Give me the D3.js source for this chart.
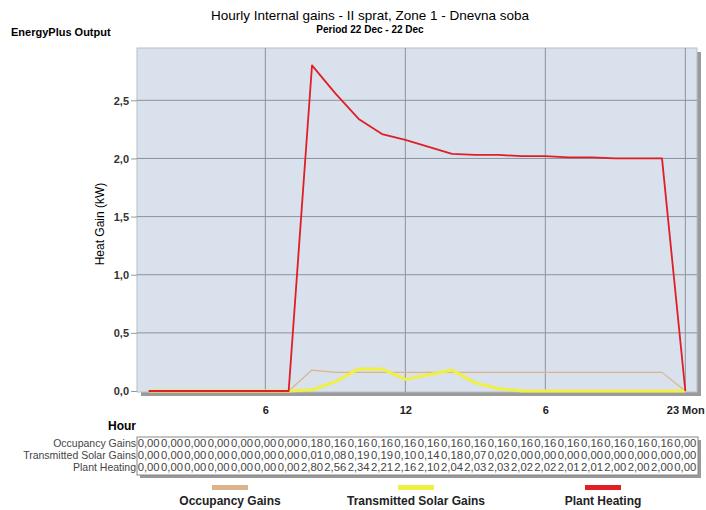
<!DOCTYPE html>
<meta charset="utf-8">
<title>Hourly Internal gains</title>
<script src="https://cdn.jsdelivr.net/npm/d3@7"></script>
<style>
  body { margin: 0; background: #fff; }
  svg { font-family: Arial, "Liberation Sans", sans-serif; }
</style>
<body>
<script>

// hours 1..24 of 22 Dec (24 = 23 Mon 0:00)
var hours = d3.range(1, 25);
var seriesNames = ["Occupancy Gains", "Transmitted Solar Gains", "Plant Heating"];
var occupancy = [0,0,0,0,0,0,0,0.18,0.16,0.16,0.16,0.16,0.16,0.16,0.16,0.16,0.16,0.16,0.16,0.16,0.16,0.16,0.16,0];
var solar = [0,0,0,0,0,0,0,0.01,0.08,0.19,0.19,0.10,0.14,0.18,0.07,0.02,0,0,0,0,0,0,0,0];
var heating = [0,0,0,0,0,0,0,2.80,2.56,2.34,2.21,2.16,2.10,2.04,2.03,2.03,2.02,2.02,2.01,2.01,2.00,2.00,2.00,0];
var xTicks = [6, 12, 18, 24];
var xTickLabels = ["6", "12", "6", "23 Mon"];
var yTicks = [0, 0.5, 1, 1.5, 2, 2.5];

var colors = ["#dcb48c", "#f0f040", "#e01e26"];
var widths = [1.2, 3, 1.8];
var allSeries = [occupancy, solar, heating];

var W = 706, H = 510;
var plot = {left: 137, right: 697, top: 48, bottom: 392};

var svg = d3.select("body").append("svg")
    .attr("width", W)
    .attr("height", H);

var x = d3.scaleLinear().domain([0.5, 24.5]).range([plot.left, plot.right]);
var y = d3.scaleLinear().domain([0, 2.95]).range([plot.bottom - 1, plot.top]);

var fmt = function(v) { return d3.format(".2f")(v).replace(".", ","); };

// titles
svg.append("text").attr("x", 370).attr("y", 20).attr("text-anchor", "middle")
  .style("font-size", "13.5px").text("Hourly Internal gains - II sprat, Zone 1 - Dnevna soba");
svg.append("text").attr("x", 370).attr("y", 33).attr("text-anchor", "middle")
  .style("font-size", "10px").style("font-weight", "bold").text("Period 22 Dec - 22 Dec");
svg.append("text").attr("x", 11).attr("y", 36)
  .style("font-size", "11px").style("font-weight", "bold").text("EnergyPlus Output");

// plot area with shadow
svg.append("rect").attr("x", plot.left + 4).attr("y", plot.top + 4)
  .attr("width", plot.right - plot.left).attr("height", plot.bottom - plot.top)
  .attr("fill", "#9a9a9a");
svg.append("rect").attr("x", plot.left).attr("y", plot.top)
  .attr("width", plot.right - plot.left).attr("height", plot.bottom - plot.top)
  .attr("fill", "#d8e1ec").attr("stroke", "#b8c0c8").attr("stroke-width", 1);

// grid
svg.append("g").selectAll("line").data(yTicks.slice(1)).enter().append("line")
  .attr("x1", plot.left).attr("x2", plot.right)
  .attr("y1", function(d) { return y(d); }).attr("y2", function(d) { return y(d); })
  .attr("stroke", "#8c939c").attr("stroke-width", 1);
svg.append("g").selectAll("line").data(xTicks).enter().append("line")
  .attr("y1", plot.top).attr("y2", plot.bottom)
  .attr("x1", function(d) { return x(d); }).attr("x2", function(d) { return x(d); })
  .attr("stroke", "#8c939c").attr("stroke-width", 1);

// y axis
var yAxis = d3.axisLeft(y).tickValues(yTicks).tickSize(6).tickPadding(2)
  .tickFormat(function(d) { return d3.format(".1f")(d).replace(".", ","); });
var gy = svg.append("g").attr("transform", "translate(" + plot.left + ",0)").call(yAxis);
gy.select(".domain").remove();
gy.selectAll("line").attr("stroke", "#999");
gy.selectAll("text").style("font-size", "11px").style("font-weight", "bold")
  .attr("fill", "#333").attr("dy", "0.35em");

svg.append("text").attr("transform", "translate(104,224) rotate(-90)")
  .attr("text-anchor", "middle").style("font-size", "12px").text("Heat Gain (kW)");

// x axis
var xAxis = d3.axisBottom(x).tickValues(xTicks).tickSize(0).tickPadding(14)
  .tickFormat(function(d, i) { return xTickLabels[i]; });
var gx = svg.append("g").attr("transform", "translate(0," + plot.bottom + ")").call(xAxis);
gx.select(".domain").remove();
gx.selectAll("text").style("font-size", "11px").style("font-weight", "bold").attr("fill", "#222");
gx.selectAll(".tick").filter(function(d) { return d === 24; }).select("text")
  .attr("text-anchor", "start").attr("dx", "-19");

svg.append("text").attr("x", 108).attr("y", 430)
  .style("font-size", "12px").style("font-weight", "bold").text("Hour");

// lines
var line = d3.line()
  .x(function(d, i) { return x(hours[i]); })
  .y(function(d) { return y(d); });
svg.append("g").selectAll("path").data(allSeries).enter().append("path")
  .attr("d", line)
  .attr("fill", "none")
  .attr("stroke", function(d, i) { return colors[i]; })
  .attr("stroke-width", function(d, i) { return widths[i]; })
  .attr("stroke-linejoin", "round");

// data table
var tableTop = 437, rowH = 12;
svg.append("rect").attr("x", plot.left + 3).attr("y", tableTop + 3)
  .attr("width", plot.right - plot.left + 1).attr("height", rowH * 3 + 2).attr("fill", "#999");
svg.append("rect").attr("x", plot.left).attr("y", tableTop)
  .attr("width", plot.right - plot.left + 1).attr("height", rowH * 3 + 2)
  .attr("fill", "#fff").attr("stroke", "#888");

var rows = svg.append("g").selectAll("g").data(allSeries).enter().append("g")
  .attr("transform", function(d, i) { return "translate(0," + (tableTop + 10 + i * rowH) + ")"; });
rows.append("text").attr("x", plot.left - 1).attr("text-anchor", "end")
  .style("font-size", "10.5px").attr("fill", "#444")
  .text(function(d, i) { return seriesNames[i]; });
rows.selectAll(".cell").data(function(d) { return d; }).enter().append("text")
  .attr("class", "cell")
  .attr("x", function(d, i) { return x(hours[i]); })
  .attr("text-anchor", "middle")
  .attr("textLength", 22).attr("lengthAdjust", "spacingAndGlyphs")
  .style("font-size", "11px").attr("fill", "#444")
  .text(fmt);

// legend
var lx = [230, 416, 603];
var leg = svg.append("g").selectAll("g").data(seriesNames).enter().append("g")
  .attr("transform", function(d, i) { return "translate(" + lx[i] + ",0)"; });
leg.append("rect").attr("x", -18).attr("y", 485).attr("width", 36).attr("height", 5)
  .attr("fill", function(d, i) { return colors[i]; });
leg.append("text").attr("y", 505).attr("text-anchor", "middle")
  .style("font-size", "12px").style("font-weight", "bold").attr("fill", "#222")
  .text(function(d) { return d; });

</script>
